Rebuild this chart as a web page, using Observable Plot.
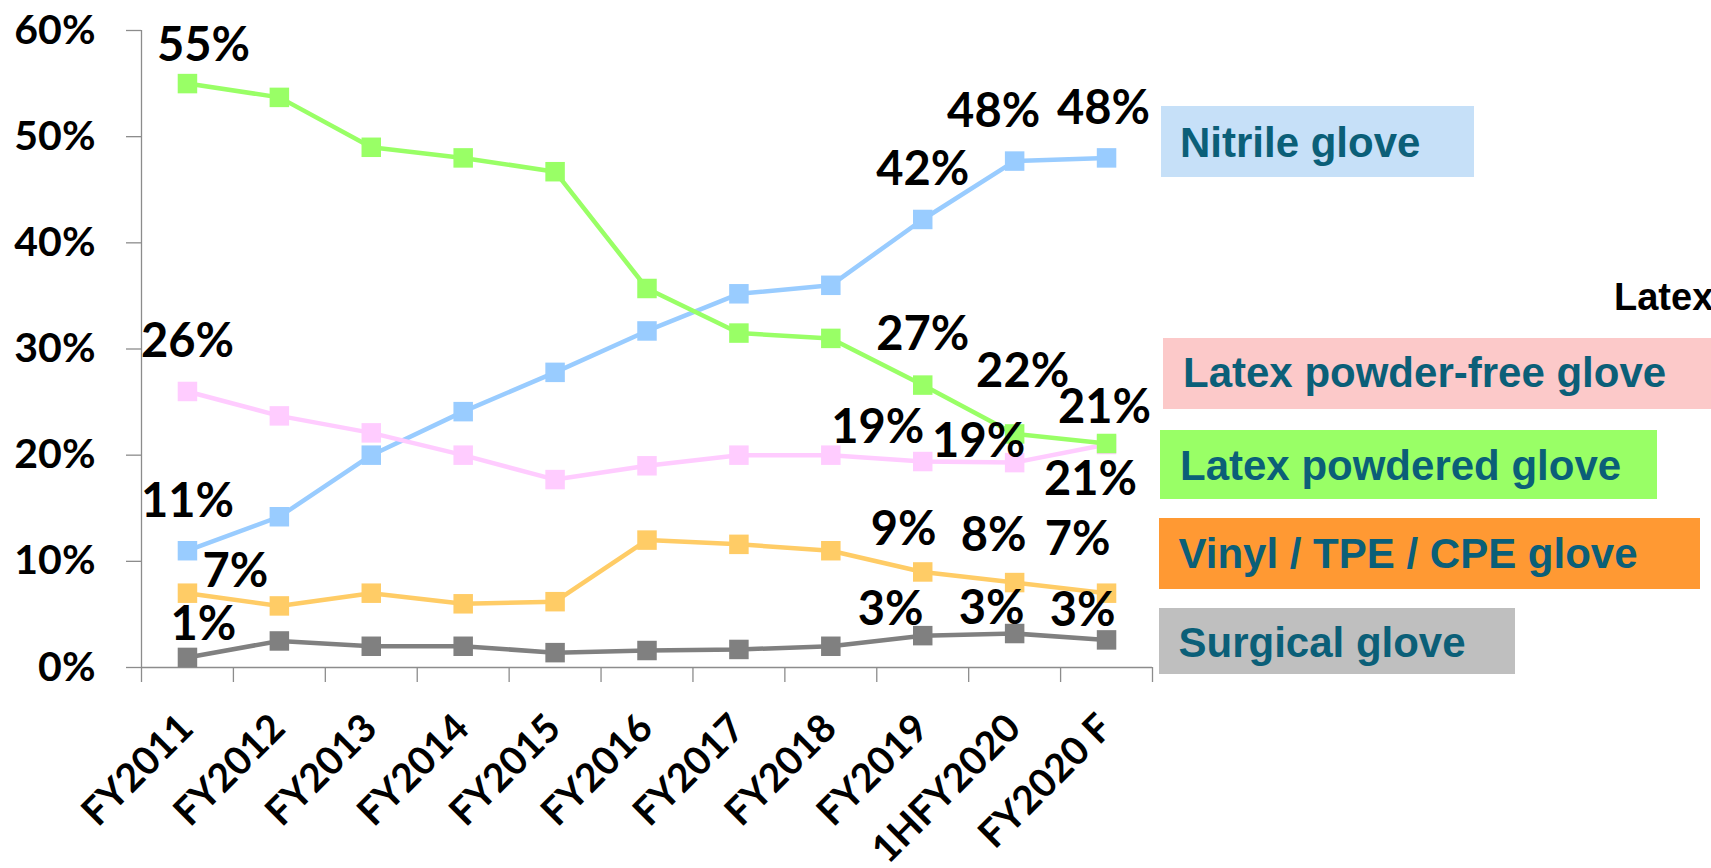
<!DOCTYPE html>
<html>
<head>
<meta charset="utf-8">
<script src="https://cdn.jsdelivr.net/npm/d3@7"></script>
<script src="https://cdn.jsdelivr.net/npm/@observablehq/plot@0.6"></script>
<style>
  html, body { margin: 0; padding: 0; background: #fff; overflow: hidden; }
  #wrap { position: relative; width: 1711px; height: 868px; }
  #wrap svg { position: absolute; left: 0; top: 0; }
  .legbox { position: absolute; }
  .legtext { position: absolute; font-family: "Liberation Sans", Arial, sans-serif; font-weight: bold;
             font-size: 42px; line-height: 42px; color: #0b5f78; white-space: nowrap; }
</style>
</head>
<body>
<div id="wrap"></div>
<script>
// ---------- data ----------
const categories = ["FY2011", "FY2012", "FY2013", "FY2014", "FY2015", "FY2016",
                    "FY2017", "FY2018", "FY2019", "1HFY2020", "FY2020 F"];
const nitrile       = [0.110, 0.142, 0.200, 0.241, 0.278, 0.317, 0.352, 0.360, 0.422, 0.477, 0.480];
const latexPF       = [0.260, 0.237, 0.221, 0.200, 0.177, 0.190, 0.200, 0.200, 0.194, 0.193, 0.210];
const latexPowdered = [0.550, 0.537, 0.490, 0.480, 0.467, 0.357, 0.315, 0.310, 0.266, 0.220, 0.211];
const vinyl         = [0.070, 0.058, 0.070, 0.060, 0.062, 0.120, 0.116, 0.110, 0.090, 0.080, 0.070];
const surgical      = [0.0095, 0.025, 0.020, 0.020, 0.014, 0.016, 0.017, 0.020, 0.030, 0.032, 0.026];
const seriesNames = ["Nitrile glove", "Latex powder-free glove", "Latex powdered glove",
                     "Vinyl / TPE / CPE glove", "Surgical glove"];
const yTicks = [0, 0.1, 0.2, 0.3, 0.4, 0.5, 0.6];
const extraText = "Latex";

// ---------- styles / layout ----------
const seriesValues = [nitrile, latexPF, latexPowdered, vinyl, surgical];
const lineColors = ["#99ccff", "#ffccff", "#99ff66", "#ffcc66", "#808080"];
const legendFills = ["#c6e0f8", "#fcc9c9", "#99ff66", "#ff9933", "#bfbfbf"];
const axisGray = "#8c8c8c";
// data-label placement: series index, category index, offset (px)
const labelLayout = [
  {s: 2, i: 0, dx: 16, dy: -23},
  {s: 1, i: 0, dx: 0, dy: -34},
  {s: 0, i: 0, dx: 0, dy: -34},
  {s: 3, i: 0, dx: 48, dy: -6},
  {s: 4, i: 0, dx: 16, dy: -17},
  {s: 0, i: 8, dx: 0, dy: -34},
  {s: 0, i: 9, dx: -21, dy: -34},
  {s: 0, i: 10, dx: -3, dy: -34},
  {s: 2, i: 8, dx: 0, dy: -35},
  {s: 2, i: 9, dx: 8, dy: -47},
  {s: 2, i: 10, dx: -2, dy: -20},
  {s: 1, i: 8, dx: -45, dy: -19},
  {s: 1, i: 9, dx: -36, dy: -6},
  {s: 1, i: 10, dx: -16, dy: 50},
  {s: 3, i: 8, dx: -19, dy: -27},
  {s: 3, i: 9, dx: -21, dy: -32},
  {s: 3, i: 10, dx: -29, dy: -38},
  {s: 4, i: 8, dx: -32, dy: -11},
  {s: 4, i: 9, dx: -23, dy: -10},
  {s: 4, i: 10, dx: -24, dy: -14}
];
// legend boxes: [left, top, width, height, textLeft, baseline]
const legendLayout = [
  [1161, 106, 313, 71, 1180, 158],
  [1163, 338, 548, 71, 1183, 388],
  [1160, 430, 497, 69, 1180, 481],
  [1159, 518, 541, 71, 1178.5, 569],
  [1159, 608, 356, 66, 1178.5, 658]
];
const extraLayout = {left: 1614, baseline: 310, size: 38};

const pct = d3.format(".0%");
const FONT = "Lato, 'Open Sans', sans-serif";

const rows = [];
seriesValues.forEach((vals, s) => vals.forEach((v, i) => rows.push({s, i, v})));

const marks = [
  Plot.ruleY([yTicks[0]], {stroke: axisGray, strokeWidth: 1.3}),
  Plot.ruleX([0], {y1: yTicks[0], y2: yTicks[yTicks.length - 1], stroke: axisGray, strokeWidth: 1.3}),
  Plot.axisY({ticks: yTicks, tickSize: 15, tickFormat: () => "", stroke: axisGray, strokeWidth: 1.3, label: null}),
  Plot.axisX({ticks: d3.range(categories.length + 1), tickSize: 15, tickFormat: () => "", stroke: axisGray, strokeWidth: 1.3, label: null}),
  Plot.text(yTicks, {x: () => 0, y: d => d, text: d => pct(d), textAnchor: "end", dx: -46,
    fontSize: 41, fontWeight: 700, fontFamily: FONT, fill: "black"}),
  Plot.text(categories, {x: (d, i) => i + 0.5, y: () => yTicks[0], text: d => d, rotate: -45,
    textAnchor: "end", lineAnchor: "bottom", dx: 8, dy: 63,
    fontSize: 39, fontWeight: 700, fontFamily: FONT, fill: "black"})
];
seriesValues.forEach((vals, s) => {
  const data = rows.filter(r => r.s === s);
  marks.push(Plot.line(data, {x: d => d.i + 0.5, y: "v", stroke: lineColors[s], strokeWidth: 4.5}));
  marks.push(Plot.dot(data, {x: d => d.i + 0.5, y: "v", symbol: "square", r: 11, fill: lineColors[s], stroke: "none"}));
});
labelLayout.forEach(L => {
  const d = {i: L.i, v: seriesValues[L.s][L.i]};
  marks.push(Plot.text([d], {x: d => d.i + 0.5, y: "v", text: d => pct(d.v), textAnchor: "middle",
    lineAnchor: "bottom", dx: L.dx, dy: L.dy, fontSize: 47, fontWeight: 700, fontFamily: FONT, fill: "black"}));
});

const chart = Plot.plot({
  width: 1711, height: 868,
  marginLeft: 141, marginRight: 559, marginTop: 30, marginBottom: 201,
  x: {type: "linear", domain: [0, categories.length], label: null},
  y: {domain: [yTicks[0], yTicks[yTicks.length - 1]], label: null},
  style: {fontFamily: FONT, background: "transparent", color: "black", overflow: "visible"},
  marks
});

const wrap = document.getElementById("wrap");
// legend (HTML, behind svg)
seriesNames.forEach((name, k) => {
  const [l, t, w, h, tl, bl] = legendLayout[k];
  const box = document.createElement("div");
  box.className = "legbox";
  Object.assign(box.style, {left: l + "px", top: t + "px", width: w + "px", height: h + "px", background: legendFills[k]});
  wrap.appendChild(box);
  const tx = document.createElement("div");
  tx.className = "legtext";
  tx.textContent = name;
  Object.assign(tx.style, {left: tl + "px", top: (bl - 35.55) + "px"});
  wrap.appendChild(tx);
});
const ex = document.createElement("div");
ex.className = "legtext";
ex.textContent = extraText;
Object.assign(ex.style, {left: extraLayout.left + "px", top: (extraLayout.baseline - 0.8464 * extraLayout.size) + "px",
  fontSize: extraLayout.size + "px", lineHeight: extraLayout.size + "px", color: "#000"});
wrap.appendChild(ex);
wrap.appendChild(chart);
</script>
</body>
</html>
